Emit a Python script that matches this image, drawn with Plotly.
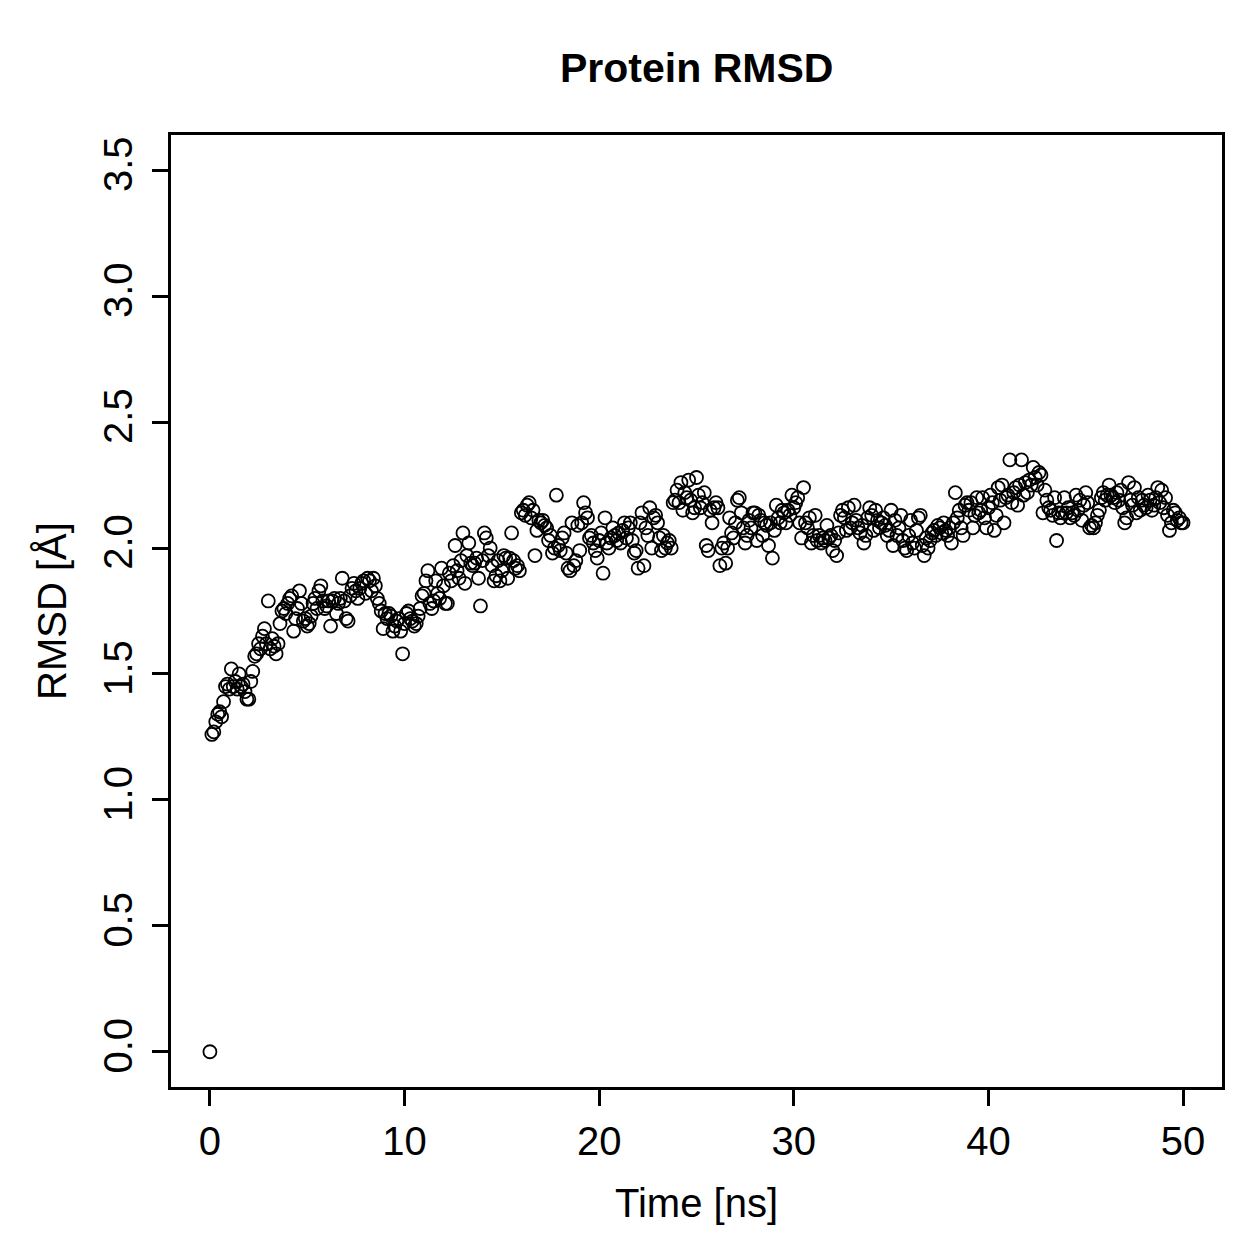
import plotly.graph_objects as go

# Time step of the trajectory (ns)
time_step = 0.1

rmsd = [
    0.00,
    1.26, 1.27, 1.31, 1.34, 1.35, 1.33, 1.39, 1.45, 1.46, 1.44,
    1.52, 1.45, 1.47, 1.44, 1.50, 1.45, 1.46, 1.43, 1.40, 1.40,
    1.47, 1.51, 1.57, 1.58, 1.62, 1.60, 1.65, 1.68, 1.62, 1.79,
    1.60, 1.64, 1.61, 1.58, 1.62, 1.70, 1.75, 1.76, 1.74, 1.78,
    1.80, 1.81, 1.67, 1.72, 1.76, 1.83, 1.78, 1.71, 1.72, 1.69,
    1.70, 1.73, 1.78, 1.80, 1.76, 1.83, 1.85, 1.79, 1.76, 1.77,
    1.79, 1.69, 1.79, 1.80, 1.74, 1.78, 1.80, 1.88, 1.79, 1.72,
    1.71, 1.81, 1.84, 1.86, 1.83, 1.80, 1.84, 1.86, 1.87, 1.82,
    1.88, 1.87, 1.83, 1.88, 1.85, 1.80, 1.78, 1.75, 1.68, 1.74,
    1.72, 1.74, 1.73, 1.67, 1.69, 1.71, 1.72, 1.67, 1.58, 1.70,
    1.74, 1.75, 1.72, 1.71, 1.69, 1.70, 1.73, 1.76, 1.81, 1.82,
    1.87, 1.91, 1.78, 1.76, 1.79, 1.87, 1.82, 1.80, 1.92, 1.85,
    1.78, 1.78, 1.90, 1.87, 1.93, 2.01, 1.91, 1.88, 1.95, 2.06,
    1.86, 1.97, 2.02, 1.94, 1.93, 1.94, 1.96, 1.88, 1.77, 1.95,
    2.06, 2.04, 1.97, 2.00, 1.93, 1.87, 1.89, 1.95, 1.87, 1.91,
    1.97, 1.96, 1.88, 1.96, 2.06, 1.95, 1.92, 1.93, 1.91, 2.14,
    2.15, 2.13, 2.17, 2.18, 2.12, 2.15, 1.97, 2.07, 2.11, 2.10,
    2.11, 2.09, 2.08, 2.03, 2.05, 1.98, 2.00, 2.21, 2.01, 1.99,
    2.04, 2.06, 1.98, 1.92, 1.91, 2.10, 1.93, 1.95, 2.09, 1.99,
    2.10, 2.18, 2.14, 2.12, 2.04, 2.05, 2.02, 1.99, 1.96, 2.03,
    2.06, 1.90, 2.12, 2.02, 2.00, 2.04, 2.08, 2.05, 2.03, 2.06,
    2.02, 2.07, 2.10, 2.04, 2.08, 2.10, 2.03, 1.98, 1.99, 1.92,
    2.10, 2.14, 1.93, 2.08, 2.05, 2.16, 2.00, 2.12, 2.13, 2.10,
    2.04, 1.99, 2.05, 2.00, 2.02, 2.03, 2.00, 2.18, 2.19, 2.23,
    2.18, 2.26, 2.15, 2.22, 2.20, 2.27, 2.19, 2.14, 2.16, 2.28,
    2.21, 2.16, 2.18, 2.22, 2.01, 1.99, 2.15, 2.10, 2.16, 2.18,
    2.16, 1.93, 2.00, 2.02, 1.94, 2.00, 2.12, 2.06, 2.04, 2.10,
    2.19, 2.20, 2.14, 2.08, 2.02, 2.05, 2.11, 2.08, 2.14, 2.14,
    2.03, 2.13, 2.11, 2.05, 2.10, 2.09, 2.01, 2.10, 1.96, 2.07,
    2.17, 2.12, 2.10, 2.15, 2.14, 2.10, 2.15, 2.13, 2.21, 2.16,
    2.18, 2.20, 2.10, 2.04, 2.24, 2.10, 2.08, 2.12, 2.02, 2.05,
    2.13, 2.03, 2.05, 2.02, 2.04, 2.03, 2.09, 2.04, 2.05, 1.99,
    2.03, 1.97, 2.06, 2.13, 2.15, 2.12, 2.07, 2.16, 2.08, 2.10,
    2.17, 2.11, 2.08, 2.06, 2.09, 2.02, 2.05, 2.12, 2.16, 2.13,
    2.07, 2.15, 2.11, 2.08, 2.10, 2.12, 2.09, 2.05, 2.07, 2.15,
    2.01, 2.11, 2.05, 2.08, 2.13, 2.03, 2.00, 1.99, 2.05, 2.11,
    2.02, 2.00, 2.07, 2.12, 2.13, 2.01, 1.97, 2.04, 2.00, 2.03,
    2.06, 2.07, 2.05, 2.09, 2.08, 2.06, 2.10, 2.07, 2.05, 2.08,
    2.02, 2.10, 2.22, 2.12, 2.15, 2.08, 2.05, 2.17, 2.18, 2.15,
    2.18, 2.08, 2.13, 2.20, 2.14, 2.15, 2.20, 2.12, 2.08, 2.16,
    2.21, 2.18, 2.07, 2.13, 2.24, 2.19, 2.25, 2.10, 2.20, 2.21,
    2.35, 2.18, 2.22, 2.24, 2.17, 2.25, 2.35, 2.21, 2.26, 2.22,
    2.27, 2.25, 2.32, 2.28, 2.25, 2.30, 2.29, 2.14, 2.23, 2.19,
    2.16, 2.15, 2.13, 2.20, 2.03, 2.14, 2.12, 2.14, 2.20, 2.14,
    2.16, 2.12, 2.14, 2.13, 2.21, 2.15, 2.19, 2.11, 2.17, 2.22,
    2.18, 2.08, 2.09, 2.08, 2.10, 2.13, 2.15, 2.20, 2.22, 2.19,
    2.21, 2.25, 2.21, 2.20, 2.18, 2.22, 2.19, 2.23, 2.16, 2.10,
    2.12, 2.26, 2.19, 2.17, 2.24, 2.14, 2.20, 2.15, 2.19, 2.17,
    2.16, 2.21, 2.19, 2.15, 2.17, 2.20, 2.24, 2.18, 2.23, 2.16,
    2.20, 2.13, 2.07, 2.10, 2.15, 2.14, 2.11, 2.12, 2.10, 2.10,
]
time_ns = [round(i * time_step, 1) for i in range(len(rmsd))]

x_ticks = [0, 10, 20, 30, 40, 50]
y_ticks = [0.0, 0.5, 1.0, 1.5, 2.0, 2.5, 3.0, 3.5]
y_tick_labels = ["0.0", "0.5", "1.0", "1.5", "2.0", "2.5", "3.0", "3.5"]

title_text = "Protein RMSD"
x_title = "Time [ns]"
y_title = "RMSD [Å]"

FONT = "Liberation Sans, Arial, Helvetica, sans-serif"

fig = go.Figure()
fig.add_trace(go.Scatter(
    x=time_ns, y=rmsd, mode="markers",
    marker=dict(symbol="circle-open", size=13, color="black",
                line=dict(color="black", width=1.8)),
    showlegend=False, hoverinfo="x+y",
))

axis_common = dict(
    showline=True, mirror=True, linecolor="black", linewidth=3,
    ticks="outside", ticklen=16, tickwidth=3, tickcolor="black",
    showgrid=False, zeroline=False,
    tickfont=dict(family=FONT, size=40, color="black"),
)

fig.update_xaxes(range=[-2, 52], tickvals=x_ticks, ticklabelstandoff=1, **axis_common)
fig.update_yaxes(range=[-0.14, 3.64], tickvals=y_ticks, ticktext=y_tick_labels,
                 tickangle=-90, ticklabelstandoff=4, **axis_common)

fig.update_layout(
    width=1259, height=1259, autosize=False,
    margin=dict(l=171, r=37, t=135, b=172),
    paper_bgcolor="white", plot_bgcolor="white",
    annotations=[
        dict(text="<b>" + title_text + "</b>", xref="paper", yref="paper",
             x=0.5, y=(1087 - 68) / 952, xanchor="center", yanchor="middle",
             showarrow=False, font=dict(family=FONT, size=41, color="black")),
        dict(text=x_title, xref="paper", yref="paper",
             x=0.5, y=(1087 - 1203) / 952, xanchor="center", yanchor="middle",
             showarrow=False, font=dict(family=FONT, size=40, color="black")),
        dict(text=y_title, xref="paper", yref="paper",
             x=(52 - 171) / 1051, y=0.5, xanchor="center", yanchor="middle",
             textangle=-90, showarrow=False,
             font=dict(family=FONT, size=40, color="black")),
    ],
)

fig.write_html("out.html")
